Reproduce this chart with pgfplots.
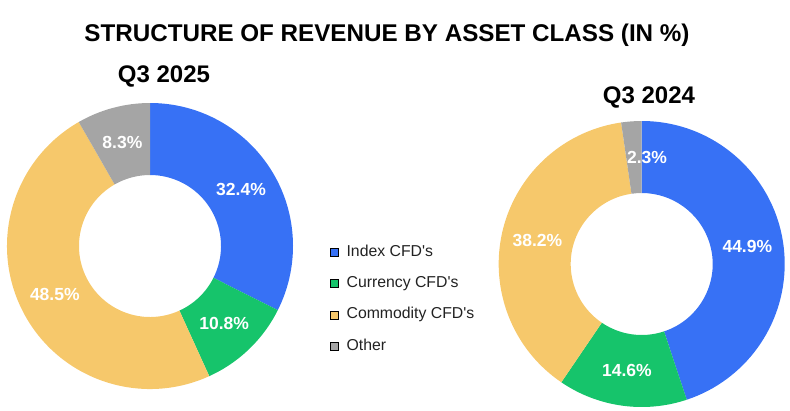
\documentclass[border=0pt]{standalone}
\usepackage{fontspec}
\setmainfont{Liberation Sans}[Ligatures=TeXOff]
\usepackage{pgfplots}
\usepackage{pgfplotstable}
\pgfplotsset{compat=1.18}

\definecolor{idx}{HTML}{3771F5}
\definecolor{cur}{HTML}{16C46B}
\definecolor{com}{HTML}{F6C86B}
\definecolor{oth}{HTML}{A5A5A5}
\definecolor{txt}{HTML}{222222}

% share of revenue, clockwise from 12 o'clock; dx = label nudge
\pgfplotstableread{
value color dx
32.4  idx   0
10.8  cur   0
48.5  com   0
8.3   oth   0
}\qthree

\pgfplotstableread{
value color dx
44.9  idx   0
14.6  cur   0
38.2  com   0
2.3   oth   13
}\qthreeprev

% #1 table, #2/#3 centre (px)
\newcommand\donut[3]{%
  \pgfplotsextra{%
    \pgfplotstablegetrowsof{#1}%
    \pgfmathtruncatemacro\N{\pgfplotsretval-1}%
    \gdef\cum{0}%
    \foreach \i in {0,...,\N}{%
      \pgfplotstablegetelem{\i}{value}\of{#1}\let\v\pgfplotsretval
      \pgfplotstablegetelem{\i}{color}\of{#1}\let\c\pgfplotsretval
      \pgfplotstablegetelem{\i}{dx}\of{#1}\let\dx\pgfplotsretval
      \pgfmathsetmacro\aA{90-3.6*\cum}%
      \pgfmathsetmacro\aB{90-3.6*(\cum+\v)}%
      \pgfmathsetmacro\aM{(\aA+\aB)/2}%
      \fill[\c] (axis cs:#2,#3) ++(\aA:143pt)
        arc[start angle=\aA, end angle=\aB, radius=143pt]
        -- ++(\aB+180:72pt)
        arc[start angle=\aB, end angle=\aA, radius=71pt] -- cycle;
      \path (axis cs:#2,#3) ++(\aM:107pt) ++(\dx pt,0)
        node[white, font=\fontsize{17.5}{20}\selectfont\bfseries] {\v\%};
      \pgfmathsetmacro\cum{\cum+\v}\xdef\cum{\cum}%
    }%
  }%
}

\begin{document}
\begin{tikzpicture}
\begin{axis}[
    width=790pt, height=410pt, scale only axis,
    xmin=0, xmax=790, ymin=0, ymax=410, y dir=reverse,
    hide axis, clip=false,
    legend cell align=left,
    legend image code/.code={\fill[#1] (0pt,-4pt) rectangle (8pt,4pt);},
    legend style={draw=none, fill=none, inner sep=0pt,
        at={(axis cs:330,244)}, anchor=north west,
        font=\fontsize{15.8}{18}\selectfont\color{txt},
        row sep=15.3pt,
        nodes={inner sep=0pt, text height=12pt, text depth=4pt},
        /tikz/every odd column/.append style={column sep=8pt}},
]
\donut{\qthree}{150}{246}
\donut{\qthreeprev}{641.7}{264}

\node[font=\fontsize{24.2}{28}\selectfont\bfseries] at (axis cs:387,35)
    {STRUCTURE OF REVENUE BY ASSET CLASS (IN \%)};
\node[font=\fontsize{24}{28}\selectfont\bfseries] at (axis cs:164,76) {Q3 2025};
\node[font=\fontsize{24}{28}\selectfont\bfseries] at (axis cs:649,97) {Q3 2024};

\addlegendimage{fill=idx}\addlegendentry{Index CFD's}
\addlegendimage{fill=cur}\addlegendentry{Currency CFD's}
\addlegendimage{fill=com}\addlegendentry{Commodity CFD's}
\addlegendimage{fill=oth}\addlegendentry{Other}
\end{axis}
\pgfresetboundingbox
\path (0,0) rectangle (790pt,410pt);
\end{tikzpicture}
\end{document}
